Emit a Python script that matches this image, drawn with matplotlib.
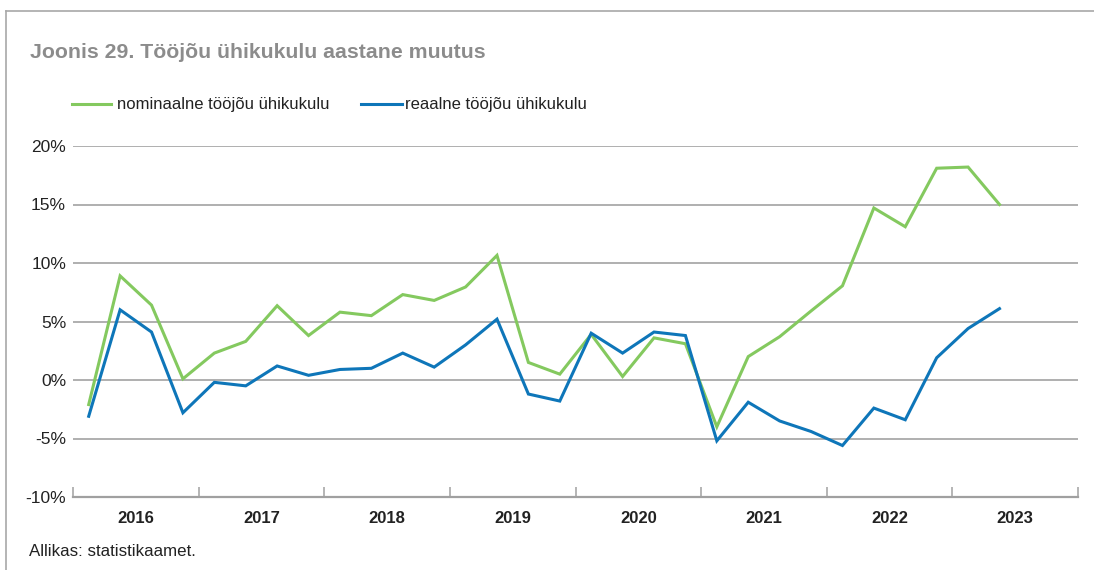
import matplotlib
matplotlib.use("Agg")
import matplotlib.pyplot as plt
from matplotlib.lines import Line2D

plt.rcParams['font.family'] = ['Liberation Sans', 'DejaVu Sans']

years = ["2016", "2017", "2018", "2019", "2020", "2021", "2022", "2023"]
nominal = [-2.1, 8.9, 6.4, 0.1, 2.3, 3.3, 6.35, 3.8, 5.8, 5.5,
           7.3, 6.8, 7.95, 10.65, 1.5, 0.5, 3.9, 0.3, 3.6, 3.1,
           -4.0, 2.0, 3.7, 5.9, 8.05, 14.7, 13.1, 18.1, 18.2, 15.0]
real = [-3.1, 6.0, 4.1, -2.8, -0.2, -0.5, 1.2, 0.4, 0.9, 1.0,
        2.3, 1.1, 3.0, 5.2, -1.2, -1.8, 4.0, 2.3, 4.1, 3.8,
        -5.2, -1.9, -3.5, -4.4, -5.6, -2.4, -3.4, 1.9, 4.4, 6.1]
y_ticks = [-10, -5, 0, 5, 10, 15, 20]
green = "#84C95F"
blue = "#0E76B9"

W, H = 1094, 570
fig = plt.figure(figsize=(W / 100, H / 100), dpi=100)
ax = fig.add_axes([73 / W, 1 - 497 / H, (1078 - 73) / W, (497 - 146) / H])

x = list(range(len(nominal)))
ax.plot(x, nominal, color=green, lw=2.2, solid_joinstyle='miter', zorder=3)
ax.plot(x, real, color=blue, lw=2.2, solid_joinstyle='miter', zorder=3)

ax.set_xlim(-0.5, 4 * len(years) - 0.5)
ax.set_ylim(-10, 20)
ax.set_yticks(y_ticks)
ax.set_yticklabels([f"{v}%" for v in y_ticks], fontsize=12.5, color="#222222")
for v in y_ticks[1:]:
    ax.axhline(v, color="#9a9a9a", lw=1.1, zorder=1)

for s in ["top", "right", "left"]:
    ax.spines[s].set_visible(False)
ax.spines["bottom"].set_color("#a0a0a0")
ax.spines["bottom"].set_linewidth(1.6)
ax.tick_params(axis='y', length=0, pad=5)

bounds = [4 * i - 0.5 for i in range(len(years) + 1)]
ax.set_xticks(bounds)
ax.set_xticklabels([])
ax.tick_params(axis='x', direction='in', length=7, width=1.1, color="#a0a0a0")
ax.set_xticks([4 * i + 1.5 for i in range(len(years))], minor=True)
ax.set_xticklabels(years, minor=True, fontsize=12, fontweight='bold', color="#222222")
ax.tick_params(axis='x', which='minor', length=0, pad=10)

# frame lines
fig.add_artist(Line2D([5.5 / W, 5.5 / W], [0, 1 - 10.5 / H], color="#a8a8a8", lw=1.2))
fig.add_artist(Line2D([5.5 / W, 1], [1 - 10.5 / H, 1 - 10.5 / H], color="#a8a8a8", lw=1.2))

fig.text(30 / W, 1 - 53 / H, "Joonis 29. Tööjõu ühikukulu aastane muutus",
         fontsize=15.3, fontweight='bold', color="#8c8c8c", va='center', ha='left')

# legend
ly = 1 - 104 / H
fig.add_artist(Line2D([72 / W, 111 / W], [ly, ly], color=green, lw=2.2))
fig.text(117 / W, ly, "nominaalne tööjõu ühikukulu", fontsize=12, color="#222222", va='center')
fig.add_artist(Line2D([361 / W, 402 / W], [ly, ly], color=blue, lw=2.2))
fig.text(405 / W, ly, "reaalne tööjõu ühikukulu", fontsize=12, color="#222222", va='center')

fig.text(29 / W, 1 - 552 / H, "Allikas: statistikaamet.", fontsize=12.2, color="#222222", va='center')

fig.savefig("out.png", dpi=100, facecolor="white")
